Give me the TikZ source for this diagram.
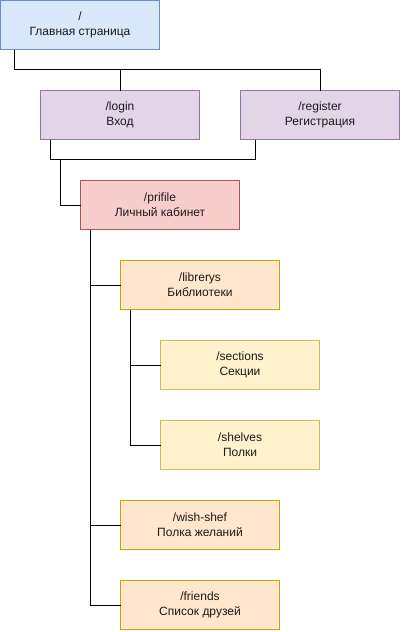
\documentclass[tikz,border=0pt]{standalone}
\usepackage{fontspec}
\setmainfont{Liberation Sans}
\definecolor{bluefill}{HTML}{DAE8FC}\definecolor{bluedraw}{HTML}{6C8EBF}
\definecolor{purpfill}{HTML}{E1D5E7}\definecolor{purpdraw}{HTML}{9673A6}
\definecolor{redfill}{HTML}{F8CECC}\definecolor{reddraw}{HTML}{B85450}
\definecolor{orfill}{HTML}{FFE6CC}\definecolor{ordraw}{HTML}{D79B00}
\definecolor{yelfill}{HTML}{FFF2CC}\definecolor{yeldraw}{HTML}{D6B656}
\definecolor{txt}{HTML}{1A1A1A}
\tikzset{
  pagebox/.style={draw, line width=1pt, minimum width=159pt, minimum height=49pt, anchor=north west, outer sep=0pt, inner sep=0pt, align=center, text=txt, font=\fontsize{12}{15}\selectfont},
  bluebox/.style={pagebox, fill=bluefill, draw=bluedraw},
  purpbox/.style={pagebox, fill=purpfill, draw=purpdraw},
  redbox/.style={pagebox, fill=redfill, draw=reddraw},
  orbox/.style={pagebox, fill=orfill, draw=ordraw},
  yelbox/.style={pagebox, fill=yelfill, draw=yeldraw},
  conn/.style={draw, line width=1pt, black}
}
\begin{document}
\begin{tikzpicture}[x=1pt,y=-1pt]
\useasboundingbox (0,0) rectangle (402,632);
\node[bluebox] (root) at (0.5,0.5) {/\\Главная страница};
\node[purpbox] (login) at (40.5,90.5) {/login\\Вход};
\node[purpbox] (register) at (240.5,90.5) {/register\\Регистрация};
\node[redbox] (prifile) at (80.5,180.5) {/prifile\\Личный кабинет};
\node[orbox] (librerys) at (120.5,260.5) {/librerys\\Библиотеки};
\node[yelbox] (sections) at (160.5,340.5) {/sections\\Секции};
\node[yelbox] (shelves) at (160.5,420.5) {/shelves\\Полки};
\node[orbox] (wish) at (120.5,500.5) {/wish-shef\\Полка желаний};
\node[orbox] (friends) at (120.5,580.5) {/friends\\Список друзей};
% root to login / register
\draw[conn] ([xshift=13.5pt]root.south west) -- ++(0,-20pt) -| (login.north);
\draw[conn] ([xshift=13.5pt]root.south west) -- ++(0,-20pt) -| (register.north);
% login / register to prifile
\draw[conn] ([xshift=10pt]login.south west) -- ++(0,-20pt) -| ([xshift=15pt]register.south west);
\draw[conn] ([xshift=20pt,yshift=-20pt]login.south west) |- (prifile.west);
% prifile to children
\draw[conn] ([xshift=10pt]prifile.south west) |- (librerys.west);
\draw[conn] ([xshift=10pt]prifile.south west) |- (wish.west);
\draw[conn] ([xshift=10pt]prifile.south west) |- (friends.west);
% librerys to children
\draw[conn] ([xshift=10pt]librerys.south west) |- (sections.west);
\draw[conn] ([xshift=10pt]librerys.south west) |- (shelves.west);
\end{tikzpicture}
\end{document}
